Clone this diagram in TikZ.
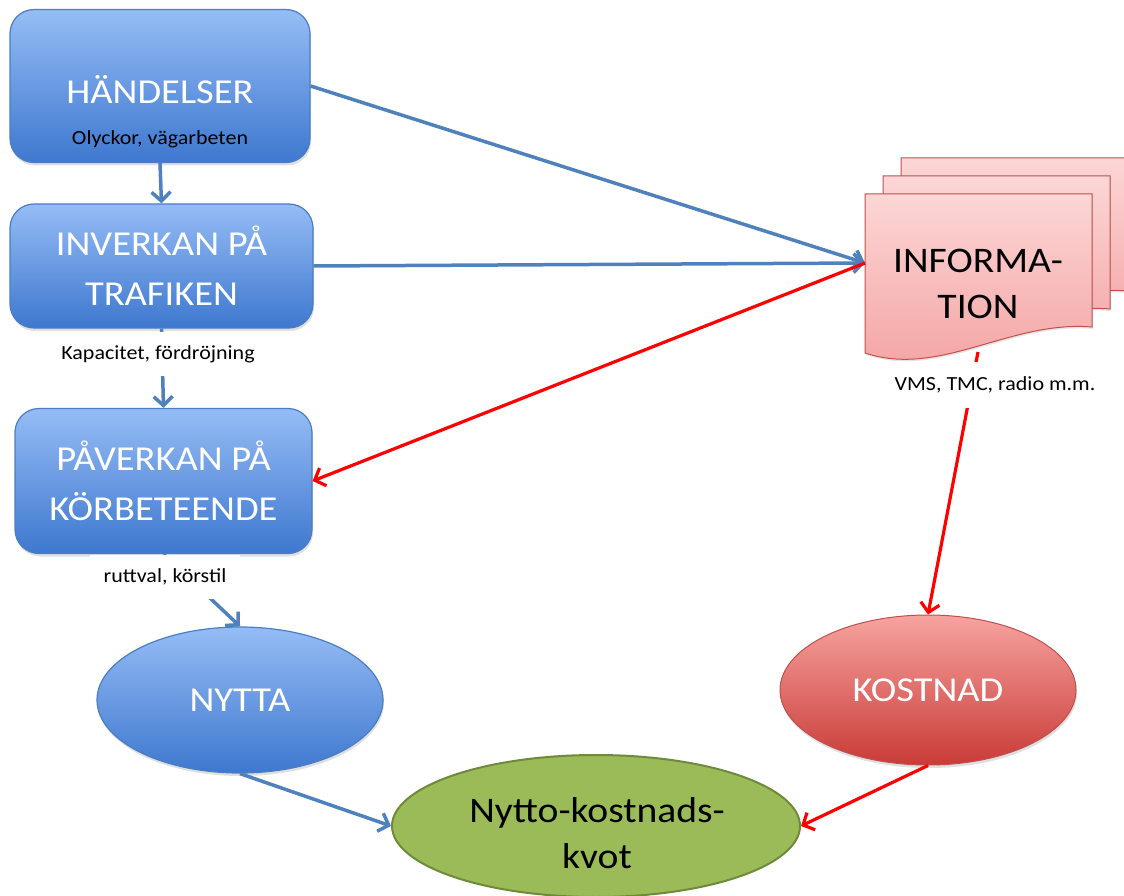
\documentclass[tikz,border=0pt]{standalone}
\usepackage{fontspec}
\setmainfont{Carlito}[FakeStretch=1.1]
\usetikzlibrary{positioning, arrows.meta, shapes.geometric, shadows}
\tikzset{>={Straight Barb[length=9pt,width=19pt]}}

\definecolor{boxtop}{HTML}{95BCF5}
\definecolor{boxbot}{HTML}{3E78CF}
\definecolor{boxline}{HTML}{4A7EC4}
\definecolor{arrowblue}{HTML}{4F81BD}
\definecolor{doctop}{HTML}{FCD6D6}
\definecolor{docbot}{HTML}{F4A2A2}
\definecolor{docline}{HTML}{C0504D}
\definecolor{redtop}{HTML}{F7A3A0}
\definecolor{redbot}{HTML}{C93B37}
\definecolor{kvotfill}{HTML}{9BBB59}
\definecolor{kvotline}{HTML}{6F8A3A}

\newcommand\bigtext{\fontsize{35}{50}\selectfont}
\newcommand\smalltext{\fontsize{20}{24}\selectfont}
% one sheet of the document stack
\newcommand\docsheet{(865,194) -- (1092,194) -- (1092,327) .. controls (1010,320) and (940,378) .. (865,353) -- cycle}

\begin{document}
\begin{tikzpicture}
    [x=1pt, y=-1pt,
     bluebox/.style={draw=boxline, line width=1.2pt, rounded corners=24pt, top color=boxtop, bottom color=boxbot,
                     text=white, align=center, font=\bigtext, inner sep=0pt,
                     drop shadow={opacity=0.25, shadow xshift=1pt, shadow yshift=-3pt}},
     blueell/.style={bluebox, ellipse, rounded corners=0pt},
     redell/.style={ellipse, draw=docline, line width=1pt, top color=redtop, bottom color=redbot,
                    text=white, font=\bigtext, inner sep=0pt,
                    drop shadow={opacity=0.25, shadow xshift=1pt, shadow yshift=-3pt}},
     kvotell/.style={ellipse, draw=kvotline, line width=2pt, fill=kvotfill, inner sep=0pt},
     docpage/.style={draw=docline, line width=1pt, top color=doctop, bottom color=docbot,
                     drop shadow={opacity=0.2, shadow xshift=1pt, shadow yshift=-2pt}},
     note/.style={fill=white, font=\smalltext, inner sep=0pt},
     bluearrow/.style={->, draw=arrowblue, line width=3.5pt},
     redarrow/.style={->, draw=red, line width=3.2pt}]

    \clip (0,0) rectangle (1124,896);
    \useasboundingbox (0,0) rectangle (1124,896);

    % left column
    \node[bluebox, minimum width=300pt, minimum height=153pt] (hand) at (160,86) {};
    \node[anchor=base, text=white, font=\bigtext] (handtitle) at (160,104) {HÄNDELSER};
    \node[anchor=base, font=\smalltext] (handsub) at (160,145) {Olyckor, vägarbeten};

    \node[bluebox, minimum width=303pt, minimum height=124pt] (inv) at (161.5,266) {INVERKAN PÅ\\TRAFIKEN};
    \node[bluebox, minimum width=297pt, minimum height=145pt] (pav) at (163.5,481) {PÅVERKAN PÅ\\KÖRBETEENDE};

    % document stack
    \begin{scope}[shift={(36,-36)}]
      \path[docpage] \docsheet;
    \end{scope}
    \begin{scope}[shift={(18,-18)}]
      \path[docpage] \docsheet;
    \end{scope}
    \path[docpage] \docsheet;
    \node[align=center, font=\fontsize{36}{46}\selectfont, inner sep=0pt] (info) at (978,284) {INFORMA-\\TION};
    \coordinate (docin) at (865,263);
    \coordinate (docout) at (978,352);

    % bottom row
    \node[blueell, minimum width=286pt, minimum height=146pt] (nytta) at (240,700) {NYTTA};
    \node[redell, minimum width=296pt, minimum height=150pt] (kost) at (928,690) {KOSTNAD};
    \node[kvotell, minimum width=408pt, minimum height=142pt] (kvot) at (596,826) {};
    \node[align=center, font=\fontsize{36}{46}\selectfont, inner sep=0pt] (kvottext) at (597,833)
        {Nytto-kostnads-\\kvot};

    % connectors
    \draw[bluearrow] (hand.south) -- (inv.north);
    \draw[bluearrow] (inv.south) -- (pav.north);
    \draw[bluearrow] (pav.south) -- (nytta.north);
    \draw[bluearrow] (hand.east) -- (docin);
    \draw[bluearrow] (inv.east) -- (docin);
    \draw[redarrow] (docin) -- (pav.east);
    \draw[redarrow] (docout) -- (kost.north);
    \draw[bluearrow] (nytta.south) -- (kvot.west);
    \draw[redarrow] (kost.south) -- (kvot.east);

    % notes over the connectors
    \node[note, minimum height=44pt, minimum width=200pt] (kap) at (158,354) {Kapacitet, fördröjning};
    \node[note, minimum height=44pt, minimum width=150pt] (rutt) at (165,577) {ruttval, körstil};
    \node[note, minimum height=46pt, minimum width=210pt] (vms) at (995,385) {VMS, TMC, radio m.m.};
  \end{tikzpicture}
\end{document}
